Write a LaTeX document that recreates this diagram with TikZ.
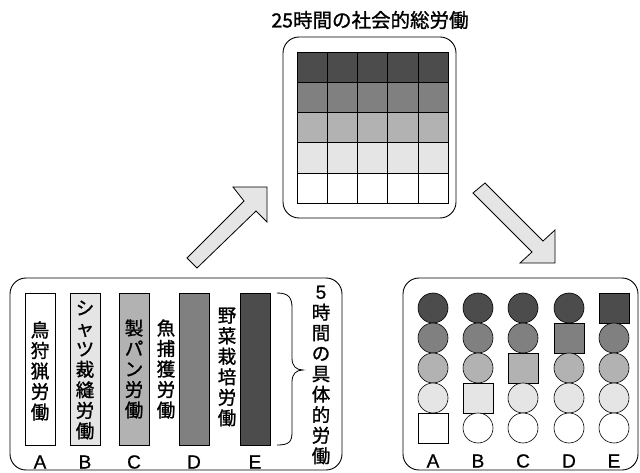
\documentclass[tikz,border=0pt]{standalone}
\usepackage{fontspec}
\newfontfamily\jp[FakeBold=1.2]{Noto Sans CJK JP}
\newfontfamily\lat[FakeBold=0.8]{Liberation Sans}
\definecolor{g1}{gray}{1}
\definecolor{g2}{gray}{0.9}
\definecolor{g3}{gray}{0.7}
\definecolor{g4}{gray}{0.5}
\definecolor{g5}{gray}{0.3}
\begin{document}
\begin{tikzpicture}[x=1pt,y=-1pt,
  panel/.style={draw=black,line width=0.9pt,rounded corners=16pt},
  cell/.style={draw=black,line width=0.5pt},
  bar/.style={draw=black,line width=0.6pt},
  vtext/.style={font=\jp\fontsize{18.5}{20.5}\selectfont,align=center,inner sep=0pt},
  lbl/.style={font=\lat\fontsize{19}{19}\selectfont,inner sep=0pt},
  bigarrow/.style={draw=black,fill=g2,line width=0.8pt,line join=miter},
  dot/.style={circle,draw=black,line width=0.6pt,minimum size=30pt,inner sep=0pt},
  sq/.style={rectangle,draw=black,line width=0.6pt,minimum size=30pt,inner sep=0pt}]
\useasboundingbox (0,0) rectangle (640,473);
% title
\node[font=\jp\fontsize{19.5}{19.5}\selectfont,inner sep=0pt] (title) at (370,20) {25時間の社会的総労働};
% top panel
\draw[panel] (283,37) rectangle (456,218);
\coordinate (toppanel) at (369.5,127.5);
\foreach \r/\c in {0/g5,1/g4,2/g3,3/g2,4/g1}{
  \foreach \k in {0,...,4}{
    \draw[cell,fill=\c] (297+30.2*\k,52+30.2*\r) rectangle ++(30.2,30.2);
  }
}
% arrows
\draw[bigarrow] (187,258) -- (244,201) -- (233,187) -- (267,187) -- (267,222) -- (256,211) -- (197,268) -- cycle;
\draw[bigarrow] (473,193) -- (485,183) -- (543,241) -- (555,230) -- (555,263) -- (520,263) -- (532,252) -- cycle;
% left panel
\draw[panel] (10,278) rectangle (342,470);
\draw[bar,fill=g1] (25,293) rectangle (55,445);
\draw[bar,fill=g2] (70,293) rectangle (100,445);
\draw[bar,fill=g3] (119,293) rectangle (149,445);
\draw[bar,fill=g4] (179,293) rectangle (209,445);
\draw[bar,fill=g5] (240,293) rectangle (270,445);
\node[vtext] (tA) at (40,371) {鳥\\狩\\猟\\労\\働};
\node[vtext] (tB) at (85,370) {シ\\ャ\\ツ\\裁\\縫\\労\\働};
\node[vtext] (tC) at (134,369) {製\\パ\\ン\\労\\働};
\node[vtext] (tD) at (166,369) {魚\\捕\\獲\\労\\働};
\node[vtext] (tE) at (227,367) {野\\菜\\栽\\培\\労\\働};
\node[lbl] (lA) at (40,462) {A};
\node[lbl] (lB) at (85,462) {B};
\node[lbl] (lC) at (134,462) {C};
\node[lbl] (lD) at (194,462) {D};
\node[lbl] (lE) at (255,462) {E};
\draw[line width=0.8pt] (277,293) .. controls (289,293) and (292,298) .. (292,308) -- (292,358)
  .. controls (292,366) and (296,370) .. (303,370)
  .. controls (296,370) and (292,374) .. (292,382) -- (292,432)
  .. controls (292,442) and (289,445) .. (277,445);
\node[vtext] (side) at (321,375) {{\lat\fontsize{19}{19}\selectfont 5}\\時\\間\\の\\具\\体\\的\\労\\働};
% right panel
\draw[panel] (403,278) rectangle (638,470);
\foreach \col/\x in {0/433,1/478,2/523,3/569,4/614}{
  \foreach \r/\c in {0/g5,1/g4,2/g3,3/g2,4/g1}{
    \pgfmathtruncatemacro{\sqr}{4-\col}
    \ifnum\r=\sqr
      \node[sq,fill=\c] (s\col\r) at (\x,308+30*\r) {};
    \else
      \node[dot,fill=\c] (s\col\r) at (\x,308+30*\r) {};
    \fi
  }
}
\node[lbl] (rA) at (433,461) {A};
\node[lbl] (rB) at (478,461) {B};
\node[lbl] (rC) at (523,461) {C};
\node[lbl] (rD) at (569,461) {D};
\node[lbl] (rE) at (614,461) {E};
\end{tikzpicture}
\end{document}
